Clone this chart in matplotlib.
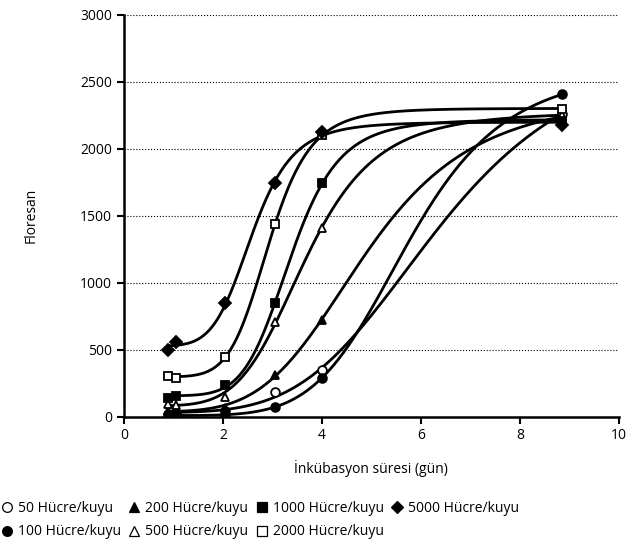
import numpy as np
import matplotlib.pyplot as plt
from matplotlib.lines import Line2D

plt.rcParams['font.family'] = ['Open Sans', 'DejaVu Sans']

# incubation days of the measurements
days = [0.9, 1.05, 2.05, 3.05, 4.0, 8.85]

# fluorescence readings per seeding density (cells/well)
y50 = [20, 25, 45, 187, 348, 2260]
y100 = [5, 10, 15, 70, 289, 2405]
y200 = [40, 50, 65, 311, 722, 2240]
y500 = [95, 90, 150, 709, 1406, 2250]
y1000 = [140, 155, 236, 846, 1742, 2210]
y2000 = [300, 290, 447, 1435, 2100, 2295]
y5000 = [500, 555, 845, 1742, 2127, 2177]

labels = ['50 Hücre/kuyu', '100 Hücre/kuyu', '200 Hücre/kuyu', '500 Hücre/kuyu',
          '1000 Hücre/kuyu', '2000 Hücre/kuyu', '5000 Hücre/kuyu']
series = [y50, y100, y200, y500, y1000, y2000, y5000]
markers = ['o', 'o', '^', '^', 's', 's', 'D']
filled = [False, True, True, False, True, False, True]


def hill(x, b, t, x0, h):
    return b + (t - b) / (1 + (x0 / x) ** h)


def fit_hill(x, y):
    # grid search over midpoint/steepness, linear least squares for bottom/top
    x = np.asarray(x, float)
    y = np.asarray(y, float)
    x0 = np.exp(np.linspace(0, np.log(12), 400))[:, None, None]
    h = np.linspace(1, 20, 381)[None, :, None]
    s = 1 / (1 + (x0 / x) ** h)
    a = 1 - s
    saa = (a * a).sum(-1); sab = (a * s).sum(-1); sbb = (s * s).sum(-1)
    say = (a * y).sum(-1); sby = (s * y).sum(-1)
    det = saa * sbb - sab ** 2
    bot = (sbb * say - sab * sby) / det
    top = (saa * sby - sab * say) / det
    sse = (((bot[..., None] * a + top[..., None] * s) - y) ** 2).sum(-1)
    bad = (top > 1.25 * y.max()) | (top < 0.95 * y.max()) | (bot < -50)
    sse[bad] = np.inf
    i, j = np.unravel_index(np.argmin(sse), sse.shape)
    return bot[i, j], top[i, j], x0[i, 0, 0], h[0, j, 0]


fig = plt.figure(figsize=(6.32, 5.46), dpi=100)
ax = fig.add_axes([0.196, 0.237, 0.783, 0.736])

xs = np.linspace(0.9, 8.85, 300)
for y, m, f in zip(series, markers, filled):
    b, t, x0, h = fit_hill(days, y)
    ax.plot(xs, hill(xs, b, t, x0, h), color='black', lw=2.0, zorder=2)
    ax.plot(days, y, ls='none', marker=m, ms=6.3 if m != 'D' else 5.8,
            mfc='black' if f else 'white', mec='black', mew=1.3, zorder=3)

ax.set_xlim(0, 10)
ax.set_ylim(0, 3000)
ax.set_xticks([0, 2, 4, 6, 8, 10])
ax.set_yticks(range(0, 3001, 500))
ax.yaxis.grid(True, ls=':', color='black', lw=0.8)
ax.set_axisbelow(True)
ax.spines['top'].set_visible(False)
ax.spines['right'].set_visible(False)
ax.spines['left'].set_linewidth(1.8)
ax.spines['bottom'].set_linewidth(1.8)
ax.tick_params(width=1.5, length=5, labelsize=10)
ax.set_xlabel('İnkübasyon süresi (gün)', fontsize=10, labelpad=12)
ax.set_ylabel('Floresan', fontsize=10, labelpad=30)

handles = [Line2D([], [], ls='none', marker=m, ms=7 if m != 'D' else 6,
                  mfc='black' if f else 'white', mec='black', mew=0.9)
           for m, f in zip(markers, filled)]
fig.legend(handles, labels, ncol=4, loc='lower left', bbox_to_anchor=(0.0, 0.012),
           frameon=False, fontsize=10, handletextpad=0.3, columnspacing=0.45,
           handlelength=1.0, labelspacing=0.6, borderpad=0, borderaxespad=0)

fig.savefig('out.png', dpi=100)
